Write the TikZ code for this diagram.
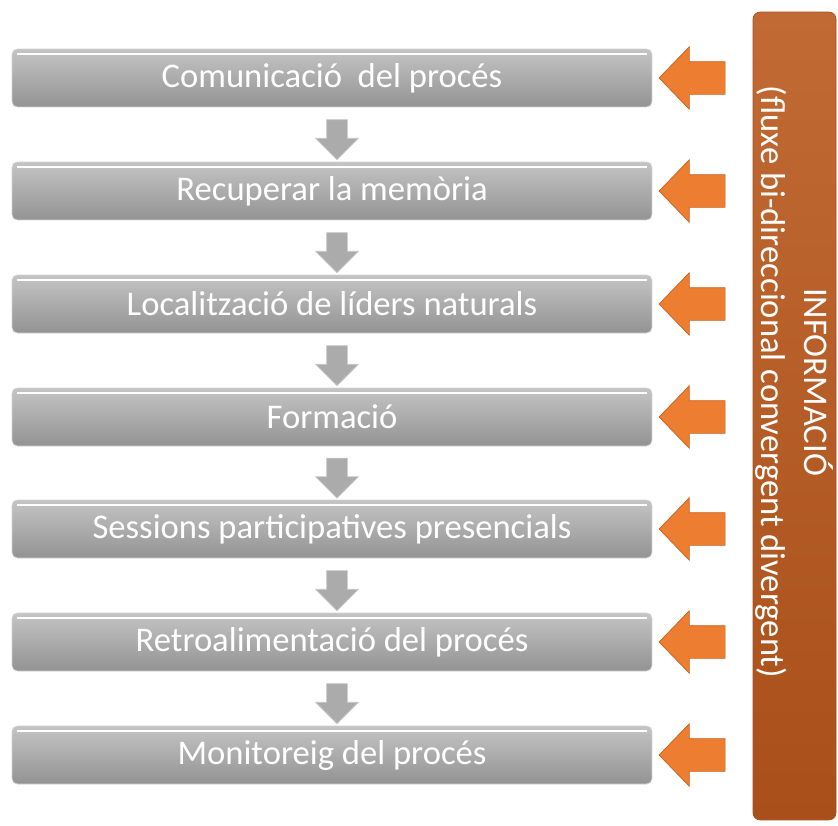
\documentclass[tikz,border=0pt]{standalone}
\usepackage{fontspec}
\setmainfont{Carlito}
\usetikzlibrary{shapes.arrows,calc}
\definecolor{boxtop}{HTML}{C4C4C4}
\definecolor{boxbot}{HTML}{939393}
\definecolor{arrgray}{HTML}{ABABAB}
\definecolor{arrorange}{HTML}{ED7D31}
\definecolor{arredge}{HTML}{C9621F}
\definecolor{bardark}{HTML}{A9501A}
\definecolor{barlight}{HTML}{C26A33}
\tikzset{
  stepbox/.style={draw=gray!35, rounded corners=3pt, top color=boxtop, bottom color=boxbot,
    minimum width=12.8cm, minimum height=1.16cm, inner sep=0pt, text=white,
    font=\fontsize{19.7}{22}\selectfont,
    path picture={\draw[white, line width=1.2pt]
      ([xshift=3pt,yshift=-3pt]path picture bounding box.north west) --
      ([xshift=-3pt,yshift=-3pt]path picture bounding box.north east);}},
  downarrow/.style={single arrow, rotate=-90, fill=arrgray, draw=gray!45,
    inner xsep=0pt, inner ysep=0.2cm, minimum height=0.8cm,
    single arrow head extend=0.22cm, single arrow tip angle=90},
  infoarrow/.style={single arrow, rotate=180, fill=arrorange, draw=arredge, line width=0.4pt,
    inner xsep=0pt, inner ysep=0.32cm, minimum height=1.32cm,
    single arrow head extend=0.3cm, single arrow tip angle=92},
  infobar/.style={rotate=-90, rounded corners=4pt, top color=barlight, bottom color=bardark,
    draw=bardark, minimum width=16.16cm, minimum height=1.66cm}
}
\begin{document}
\begin{tikzpicture}[x=0.02cm, y=-0.02cm]
\useasboundingbox (0,0) rectangle (838,825);

% etapes del proces
\node[stepbox] (b1) at (332,78)  {Comunicació~ del procés};
\node[stepbox] (b2) at (332,191) {Recuperar la memòria};
\node[stepbox] (b3) at (332,304) {Localització de líders naturals};
\node[stepbox] (b4) at (332,417) {Formació};
\node[stepbox] (b5) at (332,529) {Sessions participatives presencials};
\node[stepbox] (b6) at (332,642) {Retroalimentació del procés};
\node[stepbox] (b7) at (332,755) {Monitoreig del procés};

% fletxes entre etapes
\node[downarrow] (d1) at ($(b1.south)!0.5!(b2.north)+(5,0)$) {};
\node[downarrow] (d2) at ($(b2.south)!0.5!(b3.north)+(5,0)$) {};
\node[downarrow] (d3) at ($(b3.south)!0.5!(b4.north)+(5,0)$) {};
\node[downarrow] (d4) at ($(b4.south)!0.5!(b5.north)+(5,0)$) {};
\node[downarrow] (d5) at ($(b5.south)!0.5!(b6.north)+(5,0)$) {};
\node[downarrow] (d6) at ($(b6.south)!0.5!(b7.north)+(5,0)$) {};

% barra d'informacio
\node[infobar] (info) at (794.5,416) {};
\node[rotate=-90, text=white, align=center, font=\fontsize{19.7}{24.5}\selectfont]
  (infotext) at ($(info.center)+(0,-34)$) {INFORMACIÓ\\(fluxe bi-direccional convergent divergent)};

% fletxes d'informacio
\node[infoarrow] (i1) at (700,78)  {};
\node[infoarrow] (i2) at (700,191) {};
\node[infoarrow] (i3) at (700,304) {};
\node[infoarrow] (i4) at (700,417) {};
\node[infoarrow] (i5) at (700,529) {};
\node[infoarrow] (i6) at (700,642) {};
\node[infoarrow] (i7) at (700,755) {};
\end{tikzpicture}
\end{document}
